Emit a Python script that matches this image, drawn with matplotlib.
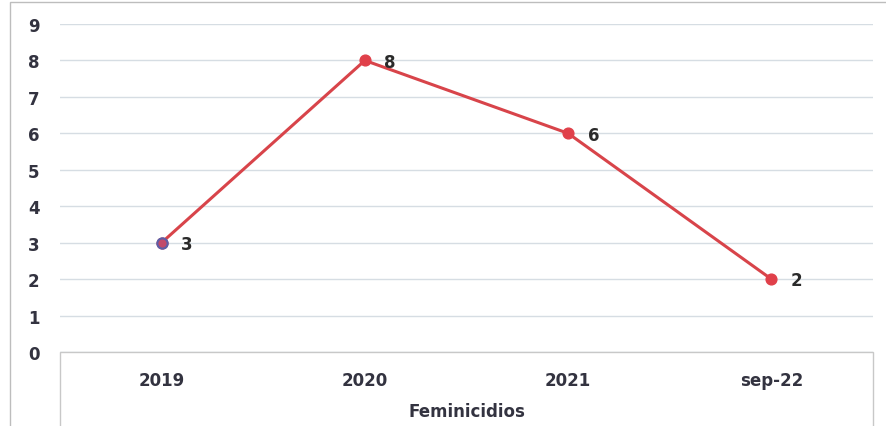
import matplotlib.pyplot as plt
from matplotlib.patches import Rectangle

periodos = ["2019", "2020", "2021", "sep-22"]
feminicidios = [3, 8, 6, 2]
y_ticks = list(range(0, 10))

plt.rcParams['font.family'] = ['DejaVu Sans']

fig = plt.figure(figsize=(8.87, 4.27), dpi=100)
fig.patch.set_facecolor('white')

# outer frame of the scanned chart
fig.add_artist(Rectangle((10 / 887, -0.05), 1.0, 1.0 - 3 / 427 + 0.05,
                         transform=fig.transFigure, fill=False,
                         edgecolor='#bdbdbd', linewidth=1.0))
# box that holds the category labels
fig.add_artist(Rectangle((60 / 887, -0.05), 813 / 887, 1 - 353 / 427 + 0.05,
                         transform=fig.transFigure, fill=False,
                         edgecolor='#c8c8c8', linewidth=1.0))

ax = fig.add_axes([60 / 887, 1 - 353 / 427, 813 / 887, (353 - 25) / 427])
x = list(range(len(periodos)))
ax.plot(x, feminicidios, color='#d8444a', linewidth=2.2, zorder=3)
ax.scatter(x, feminicidios, s=60, color='#e0404a', zorder=4)
ax.scatter([x[0]], [feminicidios[0]], s=55, facecolor='#c24a6a',
           edgecolor='#5b5fa8', linewidth=1.5, zorder=5)

for xi, v in zip(x, feminicidios):
    ax.annotate(str(v), (xi, v), xytext=(14, -1), textcoords='offset points',
                ha='left', va='center', fontsize=12, fontweight='bold',
                color='#2a2a2a')

ax.set_xlim(-0.5, len(periodos) - 0.5)
ax.set_ylim(0, 9)
ax.set_yticks(y_ticks)
ax.set_yticklabels([str(t) for t in y_ticks], fontsize=12,
                   fontweight='bold', color='#333340')
ax.set_xticks(x)
ax.set_xticklabels(periodos, fontsize=12, fontweight='bold', color='#333340')
ax.tick_params(axis='x', length=0, pad=14)
for lbl in ax.get_yticklabels():
    lbl.set_horizontalalignment('center')
ax.tick_params(axis='y', length=0, pad=19)
ax.grid(axis='y', color='#d6dde3', linewidth=1.0)
ax.set_axisbelow(True)
for s in ax.spines.values():
    s.set_visible(False)
ax.set_xlabel("Feminicidios", fontsize=12, fontweight='bold',
              color='#333340', labelpad=9)

fig.savefig("out.png", dpi=100)
